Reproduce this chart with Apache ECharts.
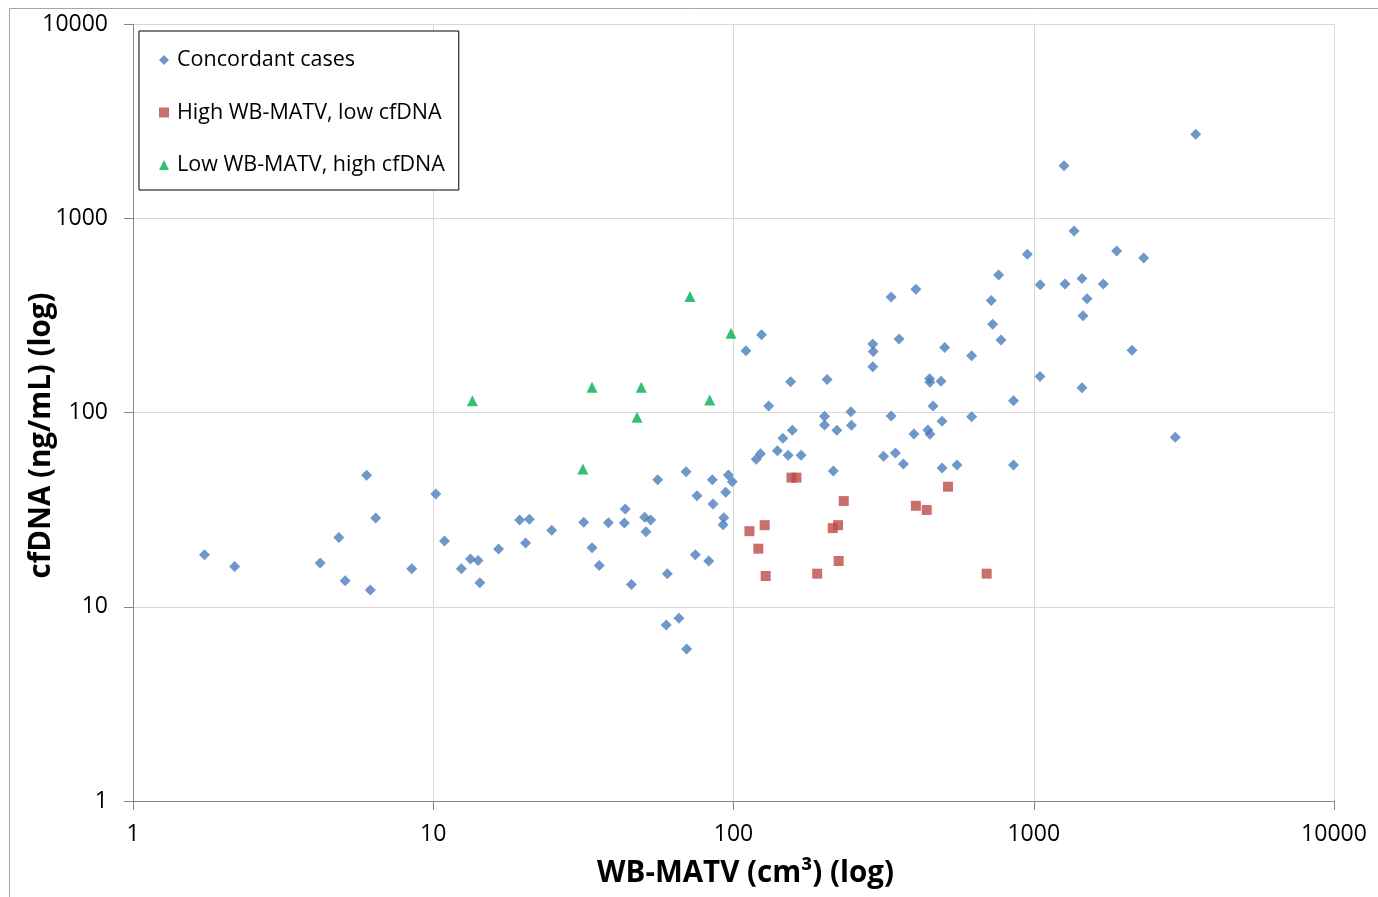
<!DOCTYPE html>
<html>
<head>
<meta charset="utf-8">
<script src="https://cdn.jsdelivr.net/npm/echarts@6/dist/echarts.min.js"></script>
<style>
html,body{margin:0;padding:0;background:#fff;}
#chart{width:1378px;height:897px;}
</style>
</head>
<body>
<div id="chart"></div>
<script>
// WB-MATV (cm3), cfDNA (ng/mL)
const concordant = [
  [1.73,18.5],[2.18,16.1],[4.20,16.8],[4.85,22.7],[5.09,13.6],[6.00,47.5],[6.43,28.6],[6.17,12.2],
  [8.48,15.7],[10.2,38.1],[10.9,21.8],[12.4,15.7],[13.3,17.6],[14.1,17.3],[14.3,13.3],[16.5,19.8],
  [19.4,28.0],[20.9,28.2],[20.3,21.3],[24.8,24.8],[31.7,27.2],[33.8,20.1],[35.7,16.3],[38.3,27.1],
  [43.6,31.9],[43.3,27.0],[45.7,13.0],[50.6,28.9],[51.1,24.3],[53.0,28.0],[55.9,45.1],[60.2,14.8],
  [59.7,8.05],[65.8,8.72],[69.8,6.06],[69.5,49.6],[75.6,37.3],[74.6,18.5],[85.0,45.1],[85.5,33.8],
  [82.7,17.2],[96.1,47.7],[99.1,44.0],[94.2,38.8],[92.8,28.7],[92.3,26.4],
  [124,251],[110,208],[131,108],[155,144],[205,148],[291,225],[292,206],[291,172],[356,239],[335,393],
  [722,377],[730,285],[778,236],[505,216],[621,196],[450,149],[451,143],[491,145],[1049,153],[856,115],
  [462,108],[335,95.9],[246,101],[201,95.6],[201,86.2],[247,85.9],[221,81.0],[157,81.0],[146,73.6],
  [140,63.6],[123,61.4],[119,57.4],[152,60.2],[168,60.2],[215,50.0],[399,77.5],[444,81.3],[451,77.2],
  [495,90.1],[621,95.1],[346,61.9],[316,59.5],[368,54.3],[495,51.8],[555,53.7],[856,53.7],
  [3463,2706],[1261,1865],[1362,860],[1889,678],[2324,624],[952,652],[764,511],[1051,455],[1271,459],
  [1448,489],[1705,459],[1505,385],[1459,315],[405,431],[2124,209],[1448,134],[2960,74.5]
];
const highMatvLowCfdna = [
  [156,46.2],[162,46.2],[233,35.0],[518,41.5],[405,33.1],[440,31.5],[127,26.3],[113,24.5],
  [121,19.9],[214,25.4],[223,26.3],[224,17.2],[128,14.4],[190,14.8],[697,14.8]
];
const lowMatvHighCfdna = [
  [13.5,115],[33.8,135],[49.3,135],[83.3,116],[47.7,94.5],[31.5,51.2],[71.6,395],[98.1,256]
];
const seriesNames = ['Concordant cases','High WB-MATV, low cfDNA','Low WB-MATV, high cfDNA'];
const xAxisTitle = 'WB-MATV (cm³) (log)';
const yAxisTitle = 'cfDNA (ng/mL) (log)';

const FONT = 'Open Sans';
const chart = echarts.init(document.getElementById('chart'), null, {renderer:'canvas'});
const fmt = v => String(Math.round(v));
const axisCommon = {
  type: 'log', logBase: 10, min: 1, max: 10000,
  axisLine: {show: true, lineStyle: {color: '#868686', width: 1}},
  axisTick: {show: true, length: 9, lineStyle: {color: '#868686'}},
  minorTick: {show: false},
  splitLine: {show: true, lineStyle: {color: '#d9d9d9', width: 1}},
  axisLabel: {color: '#000', fontFamily: FONT, fontSize: 23, formatter: fmt},
  nameLocation: 'middle',
  nameMoveOverlap: false,
  nameTextStyle: {color: '#000', fontFamily: FONT, fontSize: 29.5, fontWeight: 'bold'}
};
chart.setOption({
  animation: false,
  backgroundColor: '#fff',
  graphic: [{
    type: 'rect', silent: true,
    shape: {x: 9.5, y: 8.5, width: 1400, height: 920},
    style: {fill: null, stroke: '#a6a6a6', lineWidth: 1}
  }],
  grid: {left: 133, right: 44, top: 24, bottom: 96, containLabel: false, outerBoundsMode: 'none'},
  xAxis: Object.assign({}, axisCommon, {
    name: xAxisTitle, nameGap: 58,
    nameTextStyle: Object.assign({}, axisCommon.nameTextStyle, {padding: [0, 0, 0, 24]}),
    axisLabel: Object.assign({}, axisCommon.axisLabel, {margin: 22})
  }),
  yAxis: Object.assign({}, axisCommon, {
    name: yAxisTitle, nameGap: 76, nameRotate: 90,
    nameTextStyle: Object.assign({}, axisCommon.nameTextStyle, {padding: [0, 46, 0, 0]}),
    axisLabel: Object.assign({}, axisCommon.axisLabel, {margin: 25}),
    axisTick: {show: true, length: 9, inside: false, lineStyle: {color: '#868686'}}
  }),
  legend: {
    orient: 'vertical', left: 139, top: 31,
    padding: [17, 14, 13, 20],
    itemGap: 28.5, itemWidth: 10, itemHeight: 10,
    borderColor: '#000', borderWidth: 1, backgroundColor: '#fff',
    textStyle: {color: '#000', fontFamily: FONT, fontSize: 21.5, lineHeight: 24, padding: [0, 0, 0, 3]},
    data: [
      {name: seriesNames[0], icon: 'diamond'},
      {name: seriesNames[1], icon: 'rect'},
      {name: seriesNames[2], icon: 'triangle'}
    ]
  },
  series: [
    {name: seriesNames[0], type: 'scatter', symbol: 'diamond', symbolSize: 11,
     itemStyle: {color: '#4a7ebb'}, data: concordant},
    {name: seriesNames[1], type: 'scatter', symbol: 'rect', symbolSize: 10,
     itemStyle: {color: '#be4b48'}, data: highMatvLowCfdna},
    {name: seriesNames[2], type: 'scatter', symbol: 'triangle', symbolSize: 11,
     itemStyle: {color: '#00b050'}, data: lowMatvHighCfdna}
  ]
});
</script>
</body>
</html>
